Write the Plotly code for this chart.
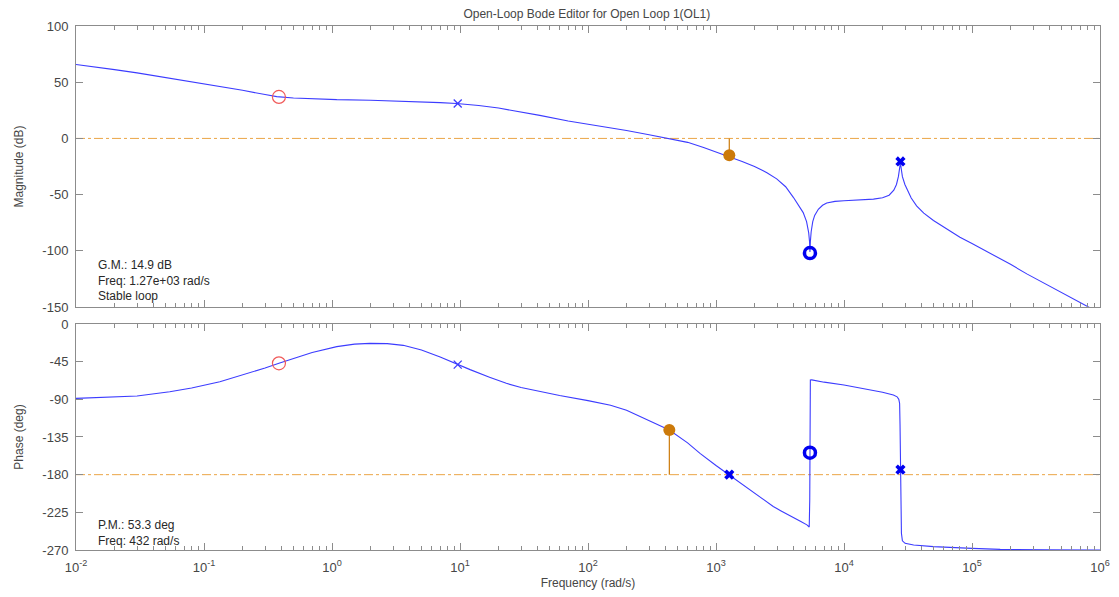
import plotly.graph_objects as go

# ---- data ----
mag_freq = [0.01, 0.015, 0.02, 0.03, 0.054, 0.08, 0.1, 0.15, 0.2, 0.3, 0.37, 0.5, 0.7, 1.09, 2, 3, 5, 7,
            9.4, 14, 20, 30, 42, 70, 100, 140, 200, 300, 436, 600, 800, 1000, 1250, 1600, 2000, 2500,
            2980, 3500, 4020, 4400, 4800, 5100, 5300, 5380, 5420, 5460, 5540, 5700, 5900, 6300, 6800,
            7330, 8500, 10000, 13300, 17000, 20000, 22500, 24500, 25700, 26600, 27200, 27600, 28000,
            28600, 29900, 31500, 33500, 36900, 42000, 50000, 60000, 80500, 100000, 150000, 200000,
            268000, 400000, 500000, 700000, 1000000]
mag_db = [65.8, 63.3, 61.2, 58.3, 53.5, 50.4, 48.7, 45.3, 42.8, 39.0, 37.2, 36.0, 35.2, 34.5, 34.0, 33.5, 32.6, 31.8,
          31.0, 29.3, 27.0, 23.6, 20.5, 15.5, 12.8, 10.1, 7.0, 3.3, 0.0, -3.5, -8.0, -12.0, -15.5, -20.5, -25.0, -30.5,
          -36.0, -43.0, -52.4, -59.0, -66.0, -74.0, -84.0, -92.0, -101.0, -92.0, -83.0, -74.0, -68.5, -63.0, -59.5,
          -57.5, -56.0, -55.5, -54.8, -54.0, -52.8, -50.5, -46.0, -41.0, -34.0, -27.0, -21.5, -27.0,
          -34.0, -41.0, -47.0, -53.0, -60.0, -66.5, -73.0, -79.0, -88.0, -93.5, -104.2, -112.0,
          -120.5, -131.0, -137.3, -146.0, -155.5]

ph_freq = [0.01, 0.02, 0.03, 0.054, 0.08, 0.133, 0.2, 0.3, 0.385, 0.5, 0.7, 1.09, 1.5, 1.98, 2.7, 3.6, 5, 7,
           9.4, 12, 17, 23, 30, 40, 60, 100, 150, 200, 255, 330, 432, 600, 750, 1000, 1250, 1600, 2000, 2400,
           2800, 3200, 3600, 4000, 4600, 5130, 5350, 5400, 5420, 5440, 5460, 5600, 7000, 10000, 15000, 20000,
           24300, 26000, 26800, 27200, 27400, 27600, 27800, 28100, 28600, 30000, 35000, 50000, 100000, 166000,
           400000, 1000000]
ph_deg = [-88.8, -87.5, -86.0, -81.0, -76.5, -69.0, -61.0, -52.5, -47.0, -41.5, -34.0, -27.0, -24.0, -23.1, -23.5, -25.5, -31.0, -39.5,
          -48.2, -54.5, -63.5, -70.9, -75.8, -80.0, -85.5, -91.5, -97.0, -103.0, -110.7, -118.0, -126.6, -142.0, -154.5, -169.0, -179.6, -192.0, -203.0, -211.5,
          -218.0, -223.0, -227.5, -231.0, -236.0, -240.0, -242.5, -210.0, -160.0, -100.0, -67.0, -66.8, -69.5, -72.9, -77.7, -81.5,
          -84.8, -87.0, -90.0, -95.0, -120.0, -170.0, -220.0, -250.0, -259.0, -262.0, -264.0, -266.0, -268.0, -269.2,
          -269.8, -270.0]

# compensator zero / pole markers (thin) and plant zero / pole markers (bold)
comp_zero = [0.385]; comp_zero_mag = [36.9]; comp_zero_ph = [-47.0]
comp_pole = [9.6]; comp_pole_mag = [31.0]; comp_pole_ph = [-48.5]
plant_zero = [5420]; plant_zero_mag = [-102.0]; plant_zero_ph = [-153.7]
plant_pole = [27600]; plant_pole_mag = [-20.5]; plant_pole_ph = [-174.0]
phase_cross_x = [1270]; phase_cross_ph = [-180.0]

gm_freq = 1270; gm_mag = -14.9
pm_freq = 432; pm_phase = -126.7

x_range = [0.01, 1e6]
mag_ticks = [100, 50, 0, -50, -100, -150]
ph_ticks = [0, -45, -90, -135, -180, -225, -270]
x_tick_exp = [-2, -1, 0, 1, 2, 3, 4, 5, 6]

BLUE = "rgb(60,60,255)"
ORANGE_LINE = "rgb(235,165,70)"
ORANGE = "rgb(204,122,10)"
GREY = "rgb(140,140,140)"
TXT = "rgb(70,70,70)"
FONT = "Liberation Sans, Arial, sans-serif"

fig = go.Figure()

def add(tr, row):
    tr.xaxis = "x" if row == 1 else "x2"
    tr.yaxis = "y" if row == 1 else "y2"
    tr.showlegend = False
    fig.add_trace(tr)

# reference lines
add(go.Scatter(x=x_range, y=[0, 0], mode="lines",
               line=dict(color=ORANGE_LINE, width=1, dash="dashdot")), 1)
add(go.Scatter(x=x_range, y=[-180, -180], mode="lines",
               line=dict(color=ORANGE_LINE, width=1, dash="dashdot")), 2)

# curves
add(go.Scatter(x=mag_freq, y=mag_db, mode="lines", line=dict(color=BLUE, width=1.1)), 1)
add(go.Scatter(x=ph_freq, y=ph_deg, mode="lines", line=dict(color=BLUE, width=1.1)), 2)

# margin stems
add(go.Scatter(x=[gm_freq, gm_freq], y=[0, gm_mag], mode="lines",
               line=dict(color=ORANGE, width=1.2)), 1)
add(go.Scatter(x=[gm_freq], y=[gm_mag], mode="markers",
               marker=dict(color=ORANGE, size=12, symbol="circle")), 1)
add(go.Scatter(x=[pm_freq, pm_freq], y=[-180, pm_phase], mode="lines",
               line=dict(color=ORANGE, width=1.2)), 2)
add(go.Scatter(x=[pm_freq], y=[pm_phase], mode="markers",
               marker=dict(color=ORANGE, size=12, symbol="circle")), 2)

# compensator markers
for row, yz, yp in [(1, comp_zero_mag, comp_pole_mag), (2, comp_zero_ph, comp_pole_ph)]:
    add(go.Scatter(x=comp_zero, y=yz, mode="markers",
                   marker=dict(symbol="circle-open", size=13, color="rgb(240,90,90)", line=dict(width=1.2))), row)
    add(go.Scatter(x=comp_pole, y=yp, mode="markers",
                   marker=dict(symbol="x-thin-open", size=8, color=BLUE, line=dict(width=1.3, color=BLUE))), row)

# plant markers
for row, zy, py in [(1, plant_zero_mag, plant_pole_mag), (2, plant_zero_ph, plant_pole_ph)]:
    add(go.Scatter(x=plant_zero, y=zy, mode="markers",
                   marker=dict(symbol="circle-open", size=11, color="rgb(0,0,240)",
                               line=dict(width=3.5, color="rgb(0,0,240)"))), row)
    add(go.Scatter(x=plant_pole, y=py, mode="markers",
                   marker=dict(symbol="x", size=9, color="rgb(0,0,240)", line=dict(width=0))), row)
add(go.Scatter(x=phase_cross_x, y=phase_cross_ph, mode="markers",
               marker=dict(symbol="x", size=9, color="rgb(0,0,240)", line=dict(width=0))), 2)

minor_vals = [k * 10.0 ** d for d in range(-2, 6) for k in range(2, 10)]
xcommon = dict(type="log", range=[-2, 6], showgrid=False, zeroline=False, automargin=False,
               showline=True, linecolor=GREY, linewidth=1, mirror="ticks",
               ticks="inside", ticklen=7, tickcolor=GREY, ticklabelstandoff=5,
               tickvals=[10.0 ** e for e in x_tick_exp],
               ticktext=["10<sup>%d</sup>" % e for e in x_tick_exp],
               minor=dict(tickvals=minor_vals, ticks="inside", ticklen=4, tickcolor=GREY, showgrid=False),
               tickfont=dict(family=FONT, size=13, color=TXT))
ycommon = dict(showgrid=False, zeroline=False, showline=True, linecolor=GREY, linewidth=1,
               automargin=False, mirror="ticks", ticks="inside", ticklen=7, tickcolor=GREY,
               ticklabelstandoff=4,
               tickfont=dict(family=FONT, size=13, color=TXT))

# page body has an 8px margin, so the figure is sized and offset to fit the 1119x597 window
fig.update_layout(
    width=1111, height=589,
    margin=dict(l=68, r=19, t=18, b=47),
    paper_bgcolor="white", plot_bgcolor="white",
    font=dict(family=FONT, size=12, color=TXT),
    title=dict(text="Open-Loop Bode Editor for Open Loop 1(OL1)", x=0.5210, xanchor="center",
               yref="container", y=0.997, yanchor="top", pad=dict(t=0, b=0),
               font=dict(size=12, color=TXT)),
    xaxis=dict(**xcommon, domain=[0, 1], anchor="y", showticklabels=False),
    yaxis=dict(**ycommon, domain=[0.4637, 1], anchor="x", range=[-150, 100],
               tickvals=mag_ticks, ticktext=[str(v) for v in mag_ticks],
               title=dict(text="Magnitude (dB)", standoff=16, font=dict(size=12, color=TXT))),
    xaxis2=dict(**xcommon, domain=[0, 1], anchor="y2",
                title=dict(text="Frequency (rad/s)", standoff=5, font=dict(size=12, color=TXT))),
    yaxis2=dict(**ycommon, domain=[0, 0.4313], anchor="x2", range=[-270, 0],
                tickvals=ph_ticks, ticktext=[str(v) for v in ph_ticks],
                title=dict(text="Phase (deg)", standoff=16, font=dict(size=12, color=TXT))),
)

fig.add_annotation(xref="paper", yref="paper", x=0.0195, y=0.5611, xanchor="left", yanchor="top",
                   align="left", showarrow=False,
                   text="G.M.: 14.9 dB<br>Freq: 1.27e+03 rad/s<br>Stable loop",
                   font=dict(size=12, color="rgb(40,40,40)"))
fig.add_annotation(xref="paper", yref="paper", x=0.0195, y=0.0649, xanchor="left", yanchor="top",
                   align="left", showarrow=False,
                   text="P.M.: 53.3 deg<br>Freq: 432 rad/s",
                   font=dict(size=12, color="rgb(40,40,40)"))

fig.write_html("out.html")
